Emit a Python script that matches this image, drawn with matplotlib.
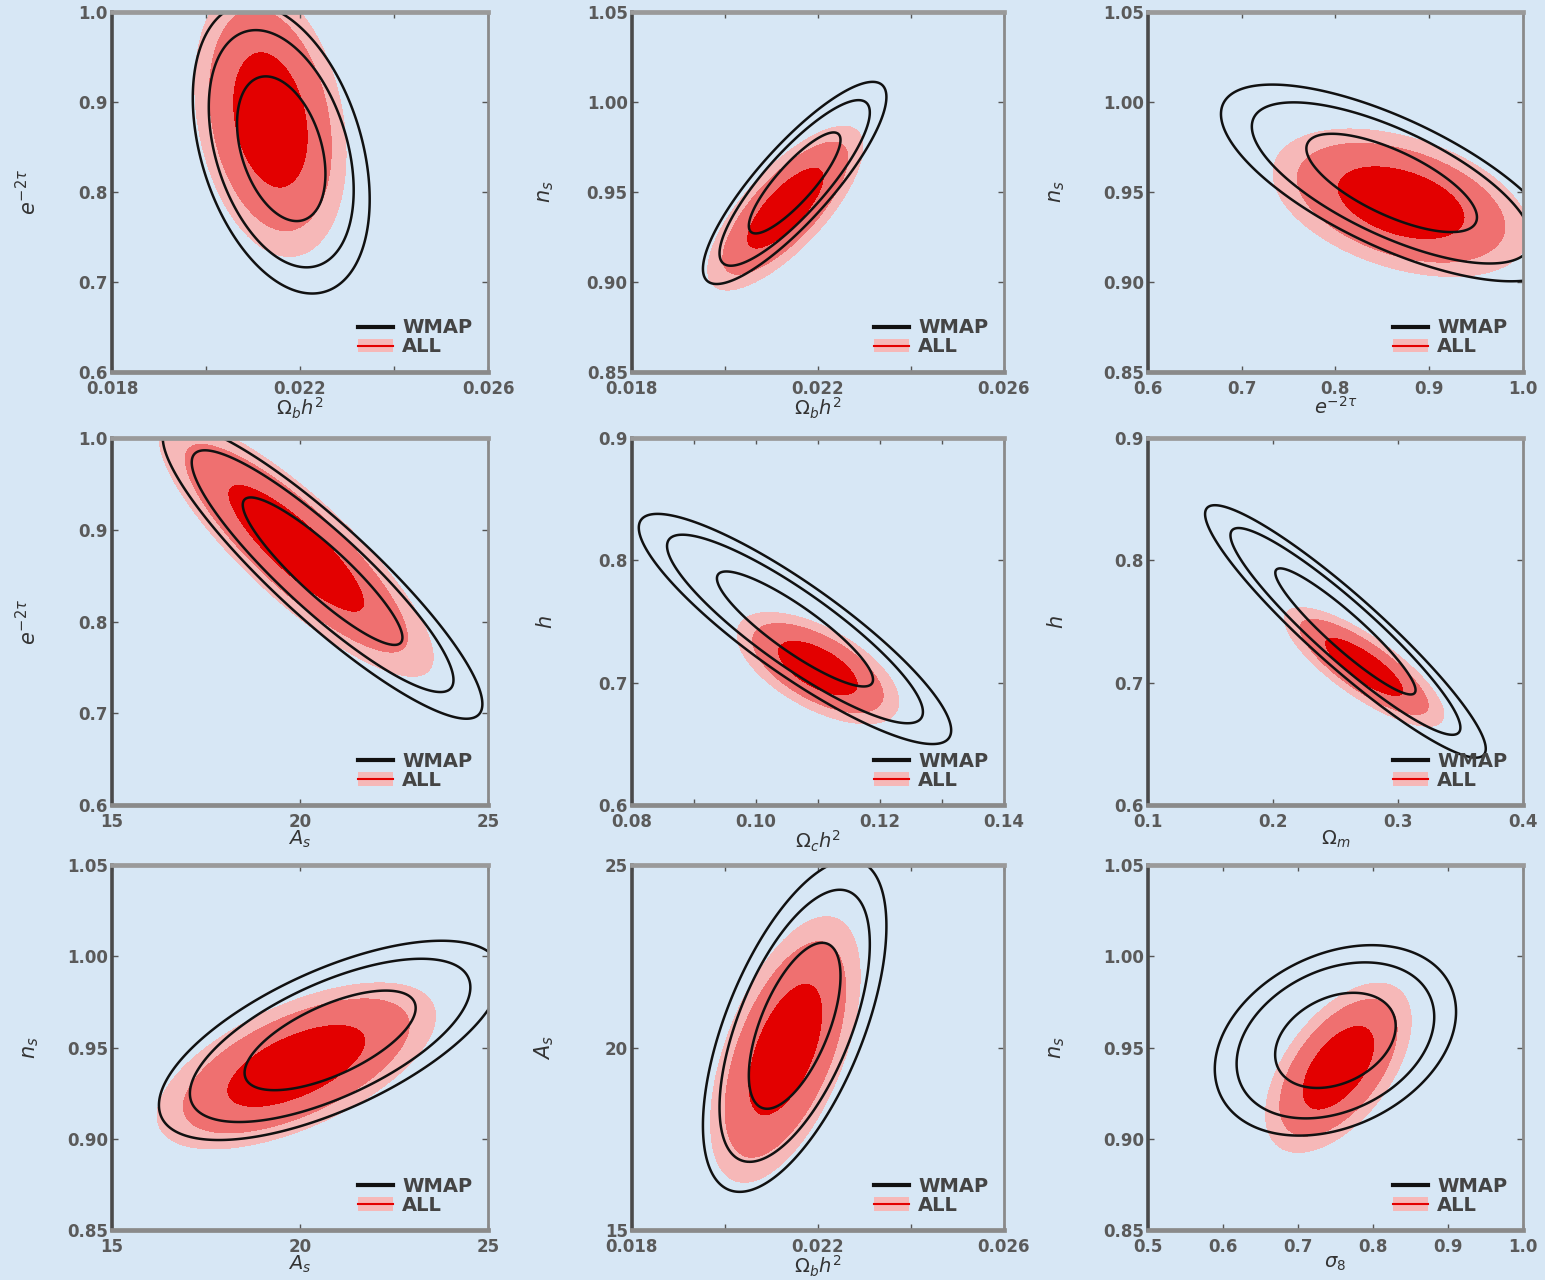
import numpy as np
import matplotlib
matplotlib.use('Agg')
import matplotlib.pyplot as plt
from matplotlib.lines import Line2D
from matplotlib.patches import Patch

# ---------------- data ----------------
x_labels = [r'$\Omega_b h^2$', r'$\Omega_b h^2$', r'$e^{-2\tau}$',
            r'$A_s$', r'$\Omega_c h^2$', r'$\Omega_m$',
            r'$A_s$', r'$\Omega_b h^2$', r'$\sigma_8$']
y_labels = [r'$e^{-2\tau}$', r'$n_s$', r'$n_s$',
            r'$e^{-2\tau}$', r'$h$', r'$h$',
            r'$n_s$', r'$A_s$', r'$n_s$']
x_limits = [(0.018, 0.026), (0.018, 0.026), (0.6, 1.0),
            (15, 25), (0.08, 0.14), (0.1, 0.4),
            (15, 25), (0.018, 0.026), (0.5, 1.0)]
y_limits = [(0.6, 1.0), (0.85, 1.05), (0.85, 1.05),
            (0.6, 1.0), (0.6, 0.9), (0.6, 0.9),
            (0.85, 1.05), (15, 25), (0.85, 1.05)]
x_ticks = [[0.018, 0.022, 0.026], [0.018, 0.022, 0.026], [0.6, 0.7, 0.8, 0.9, 1.0],
           [15, 20, 25], [0.08, 0.10, 0.12, 0.14], [0.1, 0.2, 0.3, 0.4],
           [15, 20, 25], [0.018, 0.022, 0.026], [0.5, 0.6, 0.7, 0.8, 0.9, 1.0]]
x_ticklabels = [['0.018', '0.022', '0.026'], ['0.018', '0.022', '0.026'],
                ['0.6', '0.7', '0.8', '0.9', '1.0'],
                ['15', '20', '25'], ['0.08', '0.10', '0.12', '0.14'],
                ['0.1', '0.2', '0.3', '0.4'],
                ['15', '20', '25'], ['0.018', '0.022', '0.026'],
                ['0.5', '0.6', '0.7', '0.8', '0.9', '1.0']]
x_minor = [[0.020, 0.024], [0.020, 0.024], [], [], [0.09, 0.11, 0.13], [], [], [0.020, 0.024], []]
y_ticks = [[0.6, 0.7, 0.8, 0.9, 1.0], [0.85, 0.90, 0.95, 1.00, 1.05], [0.85, 0.90, 0.95, 1.00, 1.05],
           [0.6, 0.7, 0.8, 0.9, 1.0], [0.6, 0.7, 0.8, 0.9], [0.6, 0.7, 0.8, 0.9],
           [0.85, 0.90, 0.95, 1.00, 1.05], [15, 20, 25], [0.85, 0.90, 0.95, 1.00, 1.05]]
y_ticklabels = [['0.6', '0.7', '0.8', '0.9', '1.0'], ['0.85', '0.90', '0.95', '1.00', '1.05'],
                ['0.85', '0.90', '0.95', '1.00', '1.05'],
                ['0.6', '0.7', '0.8', '0.9', '1.0'], ['0.6', '0.7', '0.8', '0.9'],
                ['0.6', '0.7', '0.8', '0.9'],
                ['0.85', '0.90', '0.95', '1.00', '1.05'], ['15', '20', '25'],
                ['0.85', '0.90', '0.95', '1.00', '1.05']]

# WMAP (black contour lines): centre, widths, correlation
wmap_cx = [0.0216, 0.0215, 0.860, 20.6, 0.1063, 0.258, 20.8, 0.0215, 0.750]
wmap_cy = [0.848, 0.955, 0.955, 0.855, 0.744, 0.742, 0.954, 20.6, 0.954]
wmap_sx = [0.00062, 0.00065, 0.060, 1.40, 0.0083, 0.037, 1.50, 0.00065, 0.053]
wmap_sy = [0.053, 0.0185, 0.018, 0.053, 0.031, 0.034, 0.018, 1.50, 0.0172]
wmap_rho = [-0.35, 0.85, -0.7, -0.9, -0.88, -0.93, 0.65, 0.6, 0.3]

# ALL (filled red contours)
all_cx = [0.02137, 0.0213, 0.870, 19.9, 0.110, 0.273, 19.9, 0.0213, 0.754]
all_cy = [0.880, 0.941, 0.944, 0.880, 0.712, 0.713, 0.940, 19.95, 0.939]
all_sx = [0.00053, 0.00055, 0.045, 1.20, 0.0043, 0.021, 1.22, 0.00053, 0.032]
all_sy = [0.050, 0.015, 0.0135, 0.046, 0.015, 0.016, 0.015, 1.20, 0.0153]
all_rho = [-0.25, 0.75, -0.4, -0.85, -0.6, -0.8, 0.6, 0.55, 0.55]

legend_labels = ['WMAP', 'ALL']

# ---------------- style ----------------
BG = '#d7e7f5'
FILL_COLORS = ['#e30000', '#ef7070', '#f6b8b8']
CHI2_LEVELS = [2.30, 6.18, 9.21]

col_left = [0.0725, 0.409, 0.743]
col_width = [0.2434, 0.2408, 0.2427]
row_bottom = [0.7094, 0.371, 0.039]
row_height = [0.2813, 0.2867, 0.285]
ylabel_x = [-0.19, -0.205, -0.215]


def chi2_grid(X, Y, cx, cy, sx, sy, rho):
    dx = (X - cx) / sx
    dy = (Y - cy) / sy
    return (dx * dx - 2 * rho * dx * dy + dy * dy) / (1 - rho * rho)


fig = plt.figure(figsize=(15.45, 12.8), dpi=100, facecolor=BG)

for i in range(9):
    r, c = divmod(i, 3)
    ax = fig.add_axes([col_left[c], row_bottom[r], col_width[c], row_height[r]])
    ax.set_facecolor('none')
    x0, x1 = x_limits[i]
    y0, y1 = y_limits[i]
    xs = np.linspace(x0 - 0.3 * (x1 - x0), x1 + 0.3 * (x1 - x0), 500)
    ys = np.linspace(y0 - 0.3 * (y1 - y0), y1 + 0.3 * (y1 - y0), 500)
    X, Y = np.meshgrid(xs, ys)

    Z_all = chi2_grid(X, Y, all_cx[i], all_cy[i], all_sx[i], all_sy[i], all_rho[i])
    ax.contourf(X, Y, Z_all, levels=[0] + CHI2_LEVELS, colors=FILL_COLORS, zorder=1)

    Z_w = chi2_grid(X, Y, wmap_cx[i], wmap_cy[i], wmap_sx[i], wmap_sy[i], wmap_rho[i])
    ax.contour(X, Y, Z_w, levels=CHI2_LEVELS, colors='#111111', linewidths=1.8, zorder=2)

    ax.set_xlim(x0, x1)
    ax.set_ylim(y0, y1)
    ax.set_xticks(x_ticks[i])
    ax.set_xticklabels(x_ticklabels[i])
    ax.set_xticks(x_minor[i], minor=True)
    ax.set_yticks(y_ticks[i])
    ax.set_yticklabels(y_ticklabels[i])
    ax.tick_params(which='both', direction='in', top=True, right=True,
                   length=4, width=1, color='#555555', labelsize=12,
                   labelcolor='#5a5a5a')
    ax.tick_params(axis='x', which='both', pad=6)
    ax.tick_params(axis='y', which='both', pad=3)
    for lab in ax.get_xticklabels() + ax.get_yticklabels():
        lab.set_fontweight('bold')

    ax.spines['left'].set_color('#4a4a4a')
    ax.spines['left'].set_linewidth(2.6)
    ax.spines['bottom'].set_color('#8a8a8a')
    ax.spines['bottom'].set_linewidth(3.4)
    ax.spines['top'].set_color('#9a9a9a')
    ax.spines['top'].set_linewidth(3.4)
    ax.spines['right'].set_color('#8a8a8a')
    ax.spines['right'].set_linewidth(2.0)

    ax.set_xlabel(x_labels[i], fontsize=14, color='#333333', labelpad=-2)
    ax.set_ylabel(y_labels[i], fontsize=15, color='#333333')
    ax.yaxis.set_label_coords(ylabel_x[c], 0.5)

    handles = [Line2D([], [], color='#111111', lw=3),
               (Patch(facecolor=FILL_COLORS[2], edgecolor='none'),
                Line2D([], [], color='#e30000', lw=1.5))]
    ax.legend(handles, legend_labels, loc='lower right', frameon=False,
              handlelength=1.8, labelcolor='#444444',
              borderaxespad=0.4, labelspacing=0.0, handletextpad=0.5,
              prop={'size': 14, 'weight': 'bold'})

fig.savefig('out.png', dpi=100, facecolor=BG)
